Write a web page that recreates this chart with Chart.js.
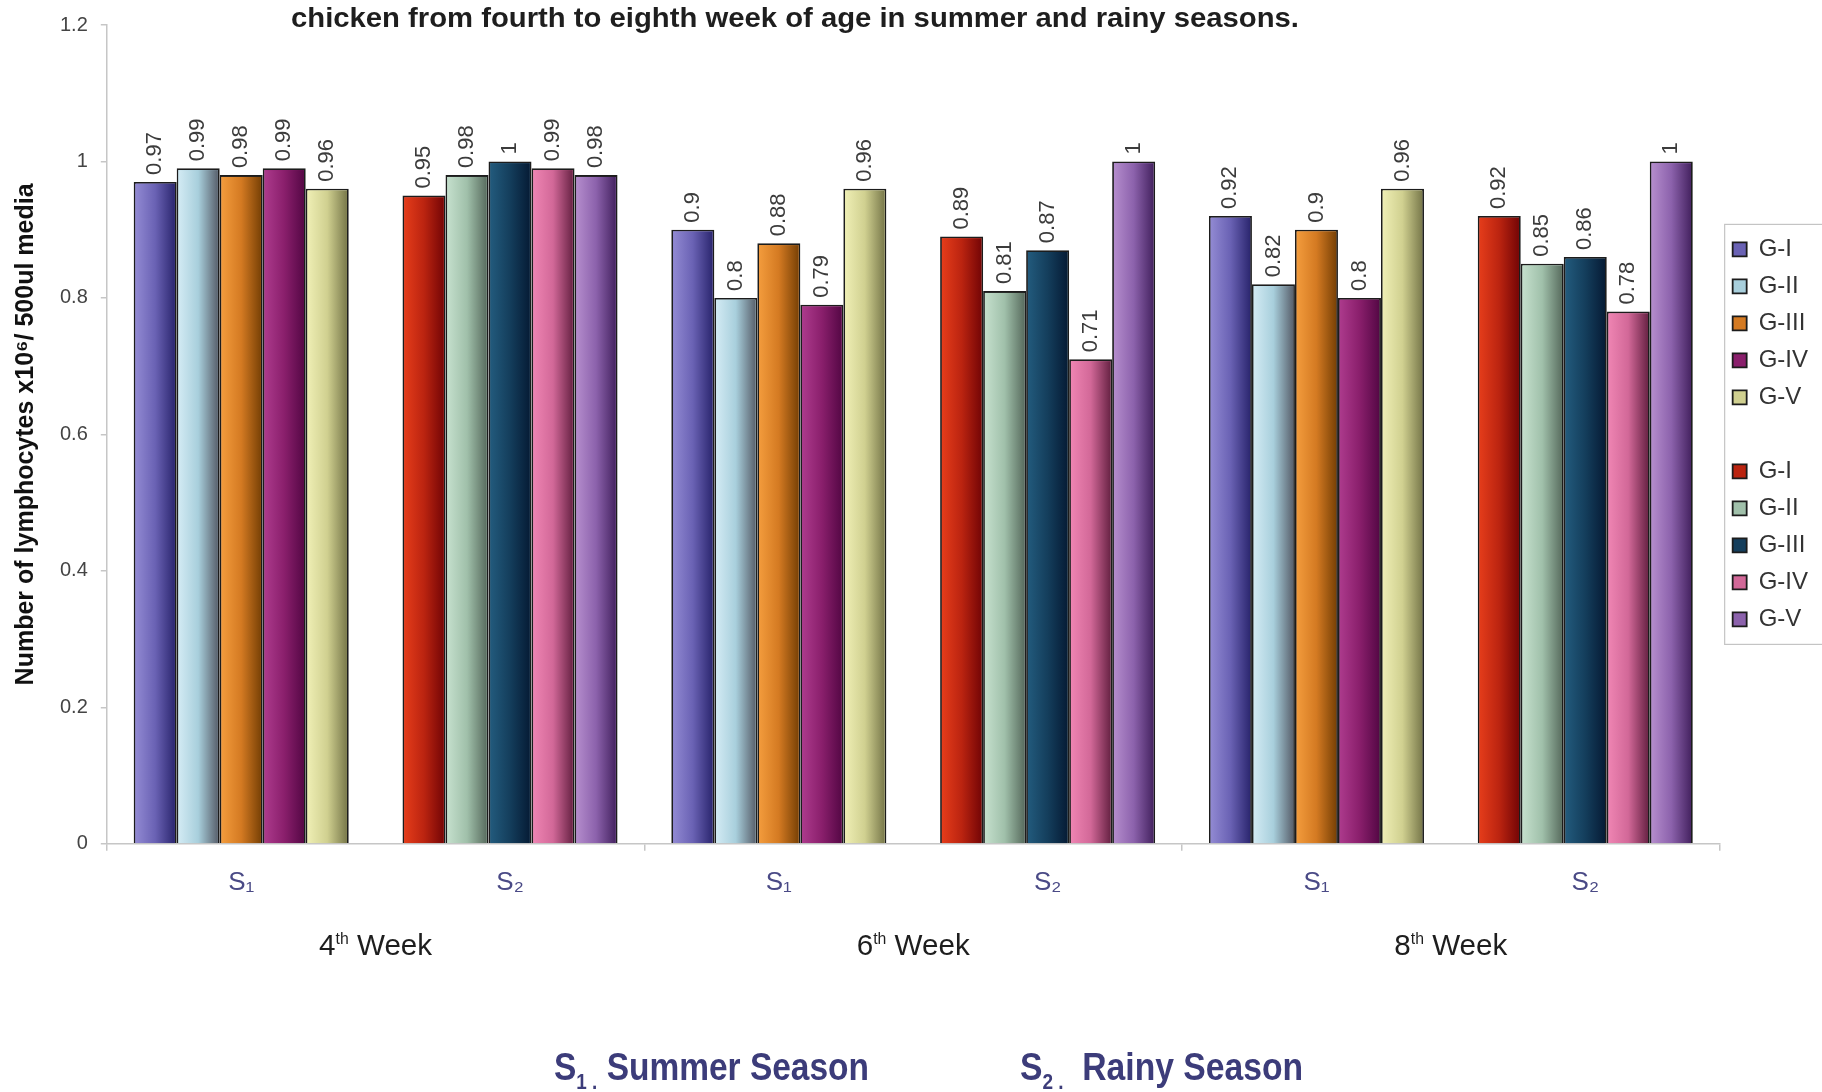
<!DOCTYPE html>
<html>
<head>
<meta charset="utf-8">
<script src="https://cdn.jsdelivr.net/npm/chart.js@4.4.1/dist/chart.umd.min.js"></script>
<style>
  html, body { margin: 0; padding: 0; background: #fff; overflow: hidden; }
  #wrap { position: relative; width: 1822px; height: 1092px; }
</style>
</head>
<body>
<div id="wrap"><canvas id="chart"></canvas></div>
<script>
const seasonLabels = ['S\u2081', 'S\u2082', 'S\u2081', 'S\u2082', 'S\u2081', 'S\u2082'];
const weekNumbers = ['4', '6', '8'];
const groupNames = ['G-I', 'G-II', 'G-III', 'G-IV', 'G-V'];
const yTicks = [0, 0.2, 0.4, 0.6, 0.8, 1, 1.2];

// one row per group, one value per week (4th, 6th, 8th)
const summerValues = [
  [0.97, 0.90, 0.92],
  [0.99, 0.80, 0.82],
  [0.98, 0.88, 0.90],
  [0.99, 0.79, 0.80],
  [0.96, 0.96, 0.96]
];
const rainyValues = [
  [0.95, 0.89, 0.92],
  [0.98, 0.81, 0.85],
  [1.00, 0.87, 0.86],
  [0.99, 0.71, 0.78],
  [0.98, 1.00, 1.00]
];

// light / mid / dark shade for each bar
const summerColors = [
  ['#9189d2', '#6a62b4', '#2c2770'],
  ['#d2eaf3', '#a8cfdc', '#5a626e'],
  ['#f29b3c', '#d47a22', '#7a4206'],
  ['#ac3a8c', '#8a1f6c', '#560846'],
  ['#eeeeb4', '#d0d090', '#7a7a4c']
];
const rainyColors = [
  ['#e43c1a', '#bb2410', '#760606'],
  ['#c4dfcc', '#a0c0aa', '#5a6e60'],
  ['#225a7c', '#143e5c', '#061c36'],
  ['#ee84b2', '#d26898', '#6a2446'],
  ['#b48ccc', '#8c62ac', '#462462']
];

const sans = '"Liberation Sans", "DejaVu Sans", Arial, sans-serif';
const narrow = '"Liberation Sans Narrow", "Liberation Sans", Arial, sans-serif';

Chart.defaults.font.family = sans;

// put a group's weekly values on the slots of one season
function spread(values, offset) {
  const out = seasonLabels.map(() => null);
  values.forEach((v, w) => { out[w * 2 + offset] = v; });
  return out;
}

function barSet(label, data, shade) {
  return {
    label, data, shade,
    backgroundColor: shade[1],
    borderColor: '#1c1c1c',
    borderWidth: 1.8
  };
}

const datasets = [];
groupNames.forEach((g, i) => datasets.push(barSet(g, spread(summerValues[i], 0), summerColors[i])));
// empty entry: leaves the blank row between the two legend blocks
datasets.push({ label: '', data: seasonLabels.map(() => null), backgroundColor: 'rgba(0,0,0,0)', borderWidth: 0 });
groupNames.forEach((g, i) => datasets.push(barSet(g, spread(rainyValues[i], 1), rainyColors[i])));

// horizontal shading on every bar plus its rotated value label
const barShading = {
  id: 'barShading',
  afterDatasetsDraw(chart) {
    const ctx = chart.ctx;
    chart.data.datasets.forEach((ds, di) => {
      if (!ds.shade) return;
      const meta = chart.getDatasetMeta(di);
      meta.data.forEach((bar, i) => {
        const v = ds.data[i];
        if (v === null) return;
        const { x, y, base, width } = bar.getProps(['x', 'y', 'base', 'width'], true);
        const bw = ds.borderWidth;
        const left = x - width / 2 + bw;
        const right = x + width / 2 - bw;
        const g = ctx.createLinearGradient(left, 0, right, 0);
        g.addColorStop(0, ds.shade[0]);
        g.addColorStop(0.5, ds.shade[1]);
        g.addColorStop(1, ds.shade[2]);
        ctx.save();
        ctx.fillStyle = g;
        ctx.fillRect(left, y + bw, right - left, base - y - bw);
        ctx.restore();

        ctx.save();
        ctx.translate(x, y - 7);
        ctx.rotate(-Math.PI / 2);
        ctx.font = '22px ' + sans;
        ctx.fillStyle = '#3c3c3c';
        ctx.textAlign = 'left';
        ctx.textBaseline = 'middle';
        ctx.fillText(String(v), 0, 0);
        ctx.restore();
      });
    });
  }
};

// draws a run of text pieces squeezed to a given width
function drawRuns(ctx, runs, x, baseline, width, color) {
  let natural = 0;
  runs.forEach(r => { ctx.font = r.font; natural += ctx.measureText(r.text).width; });
  const sx = width / natural;
  ctx.save();
  ctx.translate(x, baseline);
  ctx.scale(sx, 1);
  ctx.fillStyle = color;
  ctx.textBaseline = 'alphabetic';
  ctx.textAlign = 'left';
  let cx = 0;
  runs.forEach(r => {
    ctx.font = r.font;
    ctx.fillText(r.text, cx, r.dy || 0);
    cx += ctx.measureText(r.text).width;
  });
  ctx.restore();
}

const extraText = {
  id: 'extraText',
  afterDraw(chart) {
    const ctx = chart.ctx;
    const xs = chart.scales.x;

    drawRuns(ctx, [{ text: 'chicken from fourth to eighth week of age in summer and rainy seasons.', font: 'bold 27px ' + narrow }],
      291, 27, 1008, '#1e1e1e');

    // week captions under each pair of seasons
    weekNumbers.forEach((n, w) => {
      const cx = (xs.getPixelForValue(w * 2) + xs.getPixelForValue(w * 2 + 1)) / 2;
      const w0 = 113;
      drawRuns(ctx, [
        { text: n, font: '30px ' + narrow },
        { text: 'th', font: '16px ' + narrow, dy: -11 },
        { text: ' Week', font: '30px ' + narrow }
      ], cx - w0 / 2, 955, w0, '#1e1e1e');
    });

    drawRuns(ctx, [
      { text: 'S', font: 'bold 39px ' + narrow },
      { text: '1 .', font: 'bold 22px ' + narrow, dy: 9 },
      { text: ' Summer Season', font: 'bold 39px ' + narrow }
    ], 554, 1080, 315, '#3c3c7a');
    drawRuns(ctx, [
      { text: 'S', font: 'bold 39px ' + narrow },
      { text: '2 .', font: 'bold 22px ' + narrow, dy: 9 },
      { text: '  Rainy Season', font: 'bold 39px ' + narrow }
    ], 1020, 1080, 283, '#3c3c7a');

    // frame round the legend
    const hb = chart.legend.legendHitBoxes;
    if (hb && hb.length) {
      const first = hb[0];
      const last = hb[hb.length - 1];
      const left = first.left - 8;
      const top = first.top - 13;
      const bottom = last.top + last.height + 13;
      ctx.save();
      ctx.strokeStyle = '#c4c4c4';
      ctx.lineWidth = 1.2;
      ctx.strokeRect(left, top, chart.width - left + 10, bottom - top);
      ctx.restore();
    }
  }
};

new Chart(document.getElementById('chart'), {
  type: 'bar',
  data: { labels: seasonLabels, datasets },
  options: {
    responsive: true,
    maintainAspectRatio: false,
    animation: false,
    datasets: { bar: { categoryPercentage: 0.8, barPercentage: 1.0, skipNull: true } },
    layout: { padding: { left: 0, right: 4, top: 16, bottom: 178 } },
    plugins: {
      tooltip: { enabled: false },
      legend: {
        position: 'right',
        align: 'center',
        fullSize: false,
        labels: {
          boxWidth: 14,
          boxHeight: 14,
          padding: 13,
          color: '#333',
          font: { size: 24, family: sans }
        }
      }
    },
    scales: {
      x: {
        grid: {
          offset: true,
          drawOnChartArea: false,
          tickLength: 7,
          lineWidth: 1.5,
          color: c => (c.type !== 'tick' || c.index % 2 === 0) ? '#c6c6c6' : 'rgba(0,0,0,0)'
        },
        border: { color: '#c6c6c6', width: 1.5 },
        ticks: { color: '#4a4a86', font: { size: 26, family: sans }, padding: 16, maxRotation: 0 }
      },
      y: {
        min: 0,
        max: 1.2,
        afterBuildTicks: s => { s.ticks = yTicks.map(v => ({ value: v })); },
        grid: { drawOnChartArea: false, tickLength: 6, lineWidth: 1.5, color: '#c6c6c6' },
        border: { color: '#c6c6c6', width: 1.5 },
        ticks: { color: '#444', font: { size: 20, family: sans }, padding: 13, callback: v => String(v) },
        title: {
          display: true,
          text: 'Number of lymphocytes x10\u2076/ 500ul media',
          color: '#111',
          font: { size: 25, weight: 'bold', family: sans },
          padding: { top: 11, bottom: 6 }
        }
      }
    }
  },
  plugins: [barShading, extraText]
});
</script>
</body>
</html>
